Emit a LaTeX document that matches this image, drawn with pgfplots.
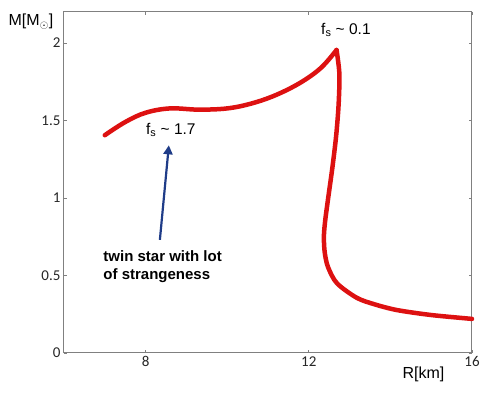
\documentclass[border=0pt]{standalone}
\usepackage{pgfplots}
\pgfplotsset{compat=1.18}
\usepackage{fontspec}
\setmainfont{Liberation Sans}
\newfontfamily\tickfont{Carlito}
\usetikzlibrary{arrows.meta}

\definecolor{curvered}{HTML}{DD1111}
\definecolor{arrowblue}{HTML}{1F3C88}

\begin{document}
\begin{tikzpicture}
\begin{axis}[
  at={(0,0)}, anchor=south west,
  scale only axis, width=408pt, height=341pt,
  xmin=6, xmax=16, ymin=0, ymax=2.2,
  xtick={8,12,16}, ytick={0,0.5,1,1.5,2},
  tick align=inside, major tick length=3pt,
  axis line style={draw=black!50, line width=1pt},
  tick style={black!50, line width=0.8pt},
  ticklabel style={font=\tickfont\fontsize{15}{18}\selectfont, text=black!85},
  /pgf/number format/assume math mode=true,
  clip=false,
]
% rising branch up to the maximum
\addplot[curvered, line width=4.5pt, smooth, tension=0.6, line cap=round] coordinates {
  (7.00,1.405) (7.50,1.490) (8.00,1.550) (8.60,1.578) (9.30,1.570)
  (10.00,1.578) (10.60,1.610) (11.20,1.665) (11.80,1.745) (12.30,1.840)
  (12.68,1.955)
};
% branch after the maximum
\addplot[curvered, line width=4.5pt, smooth, tension=0.5, line cap=round] coordinates {
  (12.68,1.955) (12.75,1.80) (12.73,1.60) (12.67,1.40) (12.58,1.20)
  (12.47,0.99) (12.40,0.85) (12.37,0.75) (12.39,0.65) (12.47,0.555)
  (12.69,0.45) (13.17,0.357) (13.60,0.315) (14.16,0.277) (15.00,0.245)
  (16.00,0.22)
};
\draw[arrowblue, line width=2.2pt, -{Triangle[length=9pt,width=9pt]}]
  (axis cs:8.35,0.73) -- (axis cs:8.57,1.34);
\node[font=\fontsize{15.5}{18}\selectfont] at (axis cs:8.62,1.44) {f$_\mathrm{s}$ \~{} 1.7};
\node[font=\fontsize{15.5}{18}\selectfont] at (axis cs:12.91,2.084) {f$_\mathrm{s}$ \~{} 0.1};
\node[font=\bfseries\fontsize{15}{18}\selectfont, anchor=west, align=left]
  at (axis cs:6.88,0.555) {twin star with lot\\of strangeness};
\node[font=\fontsize{16}{18}\selectfont] at (rel axis cs:-0.081,0.972) {M[M$_\odot$]};
\node[font=\fontsize{16}{18}\selectfont] at (rel axis cs:0.881,-0.062) {R[km]};
\end{axis}
\pgfresetboundingbox
\path[use as bounding box] (-64pt,-40pt) rectangle (427pt,353pt);
\end{tikzpicture}
\end{document}
